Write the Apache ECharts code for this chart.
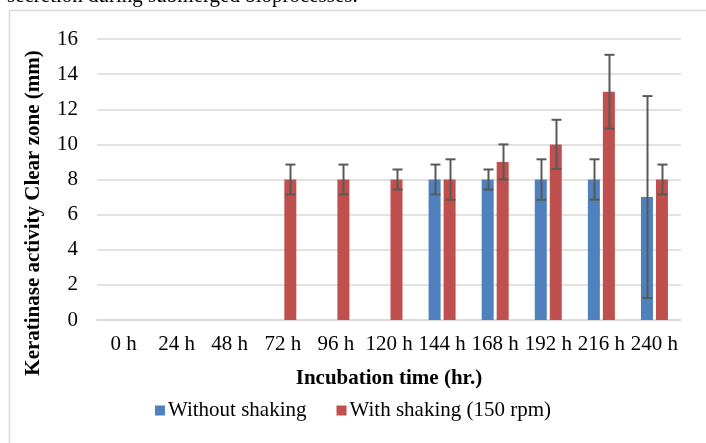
<!DOCTYPE html>
<html><head><meta charset="utf-8">
<script src="https://cdn.jsdelivr.net/npm/echarts@6/dist/echarts.min.js"></script>
<style>html,body{margin:0;padding:0;background:#fff}#c{width:706px;height:443px}</style>
</head><body><div id="c"></div>
<script>
var categories = ['0 h','24 h','48 h','72 h','96 h','120 h','144 h','168 h','192 h','216 h','240 h'];
var withoutShaking = [0,0,0,0,0,0,8,8,8,8,7];
var withoutShakingErr = [0,0,0,0,0,0,0.85,0.57,1.15,1.15,5.75];
var withShaking = [0,0,0,8,8,8,8,9,10,13,8];
var withShakingErr = [0,0,0,0.85,0.85,0.57,1.15,1.0,1.4,2.1,0.85];
var yTicks = [0,2,4,6,8,10,12,14,16];

var FONT = '"Liberation Serif","Times New Roman",serif';
var BAR_W = 12, GAP = 3;

function errData(vals, errs){
  var out = [];
  for (var i=0;i<vals.length;i++){
    if (errs[i] > 0) out.push([i, vals[i]-errs[i], vals[i]+errs[i]]);
  }
  return out;
}
function errRender(offset){
  return function(params, api){
    var i = api.value(0);
    var lo = api.coord([i, api.value(1)]);
    var hi = api.coord([i, api.value(2)]);
    var x = Math.round(lo[0] + offset) + 0.5;
    var cap = 5;
    var st = {stroke:'#595959', lineWidth:2};
    return {type:'group', children:[
      {type:'line', shape:{x1:x,y1:hi[1],x2:x,y2:lo[1]}, style:st},
      {type:'line', shape:{x1:x-cap,y1:hi[1],x2:x+cap,y2:hi[1]}, style:st},
      {type:'line', shape:{x1:x-cap,y1:lo[1],x2:x+cap,y2:lo[1]}, style:st}
    ]};
  };
}

var chart = echarts.init(document.getElementById('c'), null, {renderer:'canvas'});
chart.setOption({
  animation:false,
  backgroundColor:'#fff',
  textStyle:{fontFamily:FONT},
  grid:{left:97, right:25, top:39, bottom:123, containLabel:false},
  graphic:[
    {type:'rect', shape:{x:9.5,y:10.5,width:800,height:600}, style:{fill:'none', stroke:'#d9d9d9', lineWidth:1.5}, z:-1},
    {type:'text', left:7, top:-14, style:{text:'secretion during submerged bioprocesses.', font:'21px '+FONT, fill:'#000'}},
    {type:'text', x:34, y:213, rotation:Math.PI/2, style:{text:'Keratinase activity Clear zone (mm)', font:'bold 21px '+FONT, fill:'#000', align:'center', verticalAlign:'middle'}},
    {type:'text', x:389, y:379, style:{text:'Incubation time (hr.)', font:'bold 21px '+FONT, fill:'#000', align:'center', verticalAlign:'middle'}}
  ],
  legend:{
    bottom:17, left:'center', itemWidth:10, itemHeight:10, itemGap:30,
    icon:'rect',
    textStyle:{fontFamily:FONT, fontSize:21, color:'#000', padding:[0,0,0,-2]},
    data:['Without shaking','With shaking (150 rpm)']
  },
  xAxis:{
    type:'category', data:categories,
    axisLine:{lineStyle:{color:'#d9d9d9', width:1.5}},
    axisTick:{show:false},
    axisLabel:{color:'#000', fontSize:21, fontFamily:FONT, margin:14, interval:0}
  },
  yAxis:{
    type:'value', min:0, max:16, interval:2,
    axisLine:{show:false}, axisTick:{show:false},
    splitLine:{lineStyle:{color:'#d9d9d9', width:1.5}},
    axisLabel:{color:'#000', fontSize:21, fontFamily:FONT, margin:19,
      formatter:function(v){ return yTicks.indexOf(v)>=0 ? String(v) : ''; }}
  },
  series:[
    {name:'Without shaking', type:'bar', data:withoutShaking, barWidth:BAR_W, barGap:(GAP/BAR_W*100)+'%',
     itemStyle:{color:'#4f81bd'}},
    {name:'With shaking (150 rpm)', type:'bar', data:withShaking, barWidth:BAR_W,
     itemStyle:{color:'#c0504d'}},
    {type:'custom', data:errData(withoutShaking, withoutShakingErr), renderItem:errRender(-(BAR_W+GAP)/2), z:5,
     encode:{x:0, y:[1,2]}, silent:true},
    {type:'custom', data:errData(withShaking, withShakingErr), renderItem:errRender((BAR_W+GAP)/2), z:5,
     encode:{x:0, y:[1,2]}, silent:true}
  ]
});
</script></body></html>
